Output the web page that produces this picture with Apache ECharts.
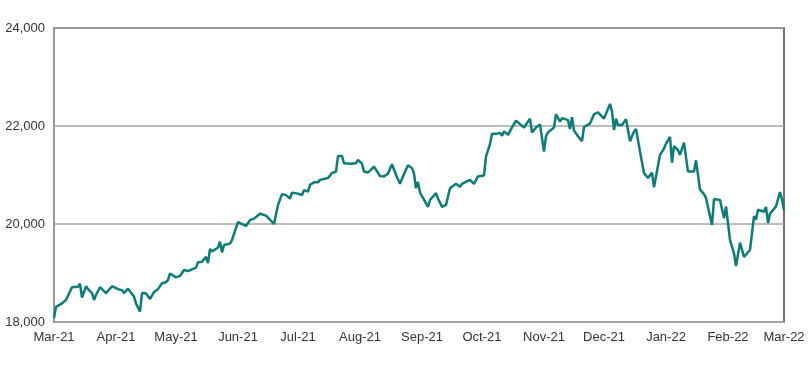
<!DOCTYPE html>
<html>
<head>
<meta charset="utf-8">
<script src="https://cdn.jsdelivr.net/npm/echarts@6/dist/echarts.min.js"></script>
<style>html,body{margin:0;padding:0;background:#fff}#c{width:810px;height:368px}</style>
</head>
<body>
<div id="c"></div>
<script>
const monthTicks = ['2021-03-01','2021-04-01','2021-05-01','2021-06-01','2021-07-01','2021-08-01','2021-09-01','2021-10-01','2021-11-01','2021-12-01','2022-01-01','2022-02-01','2022-03-01'];
const monthLabels = ['Mar-21','Apr-21','May-21','Jun-21','Jul-21','Aug-21','Sep-21','Oct-21','Nov-21','Dec-21','Jan-22','Feb-22','Mar-22'];
const yTicks = [18000, 20000, 22000, 24000];

const dates = [
'2021-03-01','2021-03-02','2021-03-03','2021-03-05','2021-03-07','2021-03-08','2021-03-10','2021-03-11','2021-03-13','2021-03-14',
'2021-03-15','2021-03-17','2021-03-18','2021-03-20','2021-03-21','2021-03-22','2021-03-23','2021-03-24','2021-03-27','2021-03-30',
'2021-04-02','2021-04-04','2021-04-05','2021-04-07','2021-04-08','2021-04-10','2021-04-11','2021-04-13','2021-04-14','2021-04-16',
'2021-04-18','2021-04-19','2021-04-20','2021-04-22','2021-04-24','2021-04-26','2021-04-27','2021-04-28',
'2021-05-01','2021-05-03','2021-05-05','2021-05-07','2021-05-08','2021-05-11','2021-05-12','2021-05-14','2021-05-15','2021-05-16',
'2021-05-17','2021-05-18','2021-05-19','2021-05-22','2021-05-23','2021-05-24','2021-05-25','2021-05-28','2021-05-29','2021-05-30','2021-05-31',
'2021-06-01','2021-06-02','2021-06-05','2021-06-07','2021-06-08','2021-06-09','2021-06-12','2021-06-15','2021-06-19','2021-06-21',
'2021-06-22','2021-06-23','2021-06-25','2021-06-27','2021-06-28','2021-06-29',
'2021-07-01','2021-07-03','2021-07-04','2021-07-06','2021-07-07','2021-07-09','2021-07-11','2021-07-12','2021-07-13','2021-07-16',
'2021-07-18','2021-07-19','2021-07-20','2021-07-21','2021-07-23','2021-07-24','2021-07-25','2021-07-27','2021-07-30','2021-07-31',
'2021-08-02','2021-08-03','2021-08-05','2021-08-08','2021-08-11','2021-08-13','2021-08-15','2021-08-17','2021-08-19','2021-08-21',
'2021-08-23','2021-08-25','2021-08-27','2021-08-28','2021-08-29','2021-08-30','2021-08-31',
'2021-09-01','2021-09-04','2021-09-05','2021-09-08','2021-09-09','2021-09-11','2021-09-13','2021-09-15','2021-09-18','2021-09-20',
'2021-09-21','2021-09-25','2021-09-26','2021-09-27','2021-09-29',
'2021-10-02','2021-10-03','2021-10-05','2021-10-06','2021-10-08','2021-10-10','2021-10-11','2021-10-12','2021-10-13','2021-10-14',
'2021-10-16','2021-10-18','2021-10-19','2021-10-22','2021-10-25','2021-10-26','2021-10-28','2021-10-30',
'2021-11-01','2021-11-02','2021-11-03','2021-11-06','2021-11-07','2021-11-09','2021-11-10','2021-11-13','2021-11-14','2021-11-15',
'2021-11-16','2021-11-18','2021-11-20','2021-11-21','2021-11-24','2021-11-26','2021-11-28',
'2021-12-01','2021-12-03','2021-12-04','2021-12-05','2021-12-06','2021-12-07','2021-12-08','2021-12-10','2021-12-11','2021-12-12',
'2021-12-14','2021-12-16','2021-12-17','2021-12-19','2021-12-21','2021-12-23','2021-12-25','2021-12-26','2021-12-27','2021-12-29','2021-12-31',
'2022-01-01','2022-01-03','2022-01-04','2022-01-05','2022-01-07','2022-01-08','2022-01-10','2022-01-12','2022-01-15','2022-01-16',
'2022-01-18','2022-01-20','2022-01-21','2022-01-24','2022-01-25','2022-01-26','2022-01-28','2022-01-30','2022-01-31',
'2022-02-02','2022-02-04','2022-02-05','2022-02-07','2022-02-09','2022-02-12','2022-02-14','2022-02-15','2022-02-16','2022-02-19',
'2022-02-20','2022-02-21','2022-02-22','2022-02-25','2022-02-27','2022-02-28','2022-03-01'
];

const values = [
18080,18310,18330,18380,18450,18470,18710,18720,18720,18780,
18500,18730,18670,18590,18450,18550,18570,18710,18590,18730,
18670,18650,18590,18680,18650,18520,18380,18210,18590,18580,
18470,18470,18610,18670,18790,18810,18860,18990,
18910,18940,19060,19040,19030,19110,19220,19230,19270,19330,
19200,19490,19440,19520,19640,19420,19570,19600,19670,19800,19800,
20040,20060,19960,20080,20040,20110,20210,20170,20000,20390,
20370,20610,20590,20520,20640,20610,
20620,20590,20690,20660,20800,20850,20850,20900,20940,20940,
21040,21080,21070,21390,21390,21240,21260,21230,21240,21310,
21230,21070,21050,21170,20980,20970,21030,21220,21000,20820,
21020,21200,21140,21030,20730,20860,20640,
20610,20350,20490,20630,20520,20350,20390,20730,20820,20760,
20820,20900,20870,20820,20970,
20990,21380,21630,21840,21840,21860,21800,21890,21890,21820,
21970,22110,22070,21970,22150,21870,21970,22030,
21480,21790,21870,21970,22240,22090,22160,22120,21940,22180,
21910,21790,21690,21980,22050,22240,22280,
22150,22350,22450,22300,21920,22150,22020,22020,21980,22140,
21690,21890,21940,21480,21040,20940,21050,20750,20730,21410,21540,
21640,21780,21250,21590,21510,21410,21660,21070,21070,21300,
20700,20610,20530,19980,20510,20550,20490,20120,20360,
19670,19400,19140,19620,19330,19470,20160,20090,20290,20250,
20350,20020,20210,20360,20650,20500,20280
];

const chart = echarts.init(document.getElementById('c'));
const toTime = d => Date.UTC(+d.slice(0, 4), +d.slice(5, 7) - 1, +d.slice(8, 10));
const tickTimes = monthTicks.map(toTime);
const series = dates.map((d, i) => [toTime(d), values[i]]);
const labelFont = { fontFamily: 'Liberation Sans, Arial, sans-serif', fontSize: 13, color: '#333333' };

chart.setOption({
  animation: false,
  backgroundColor: '#ffffff',
  grid: { left: 54, right: 26, top: 28, bottom: 46, show: true, borderColor: '#404040', borderWidth: 1.5, backgroundColor: 'transparent' },
  xAxis: {
    type: 'value',
    min: tickTimes[0],
    max: tickTimes[tickTimes.length - 1],
    axisLine: { show: true, lineStyle: { color: '#a6a6a6', width: 1.5 } },
    axisTick: { show: false },
    splitLine: { show: false },
    axisLabel: Object.assign({
      customValues: tickTimes,
      margin: 9,
      hideOverlap: false,
      showMinLabel: true,
      showMaxLabel: true,
      formatter: function (v) {
        let best = 0, bd = Infinity;
        tickTimes.forEach((t, i) => { const dd = Math.abs(t - v); if (dd < bd) { bd = dd; best = i; } });
        return monthLabels[best];
      }
    }, labelFont)
  },
  yAxis: {
    type: 'value',
    min: yTicks[0],
    max: yTicks[yTicks.length - 1],
    interval: 2000,
    axisLine: { show: true, lineStyle: { color: '#a6a6a6', width: 1.5 } },
    axisTick: { show: false },
    splitLine: { show: true, lineStyle: { color: '#a6a6a6', width: 1.5 } },
    axisLabel: Object.assign({
      margin: 9,
      formatter: function (v) { return v.toLocaleString('en-US'); }
    }, labelFont)
  },
  series: [{
    type: 'line',
    data: series,
    showSymbol: false,
    symbol: 'none',
    lineStyle: { color: '#0b7d78', width: 2.5 },
    z: 3
  }]
});
</script>
</body>
</html>
